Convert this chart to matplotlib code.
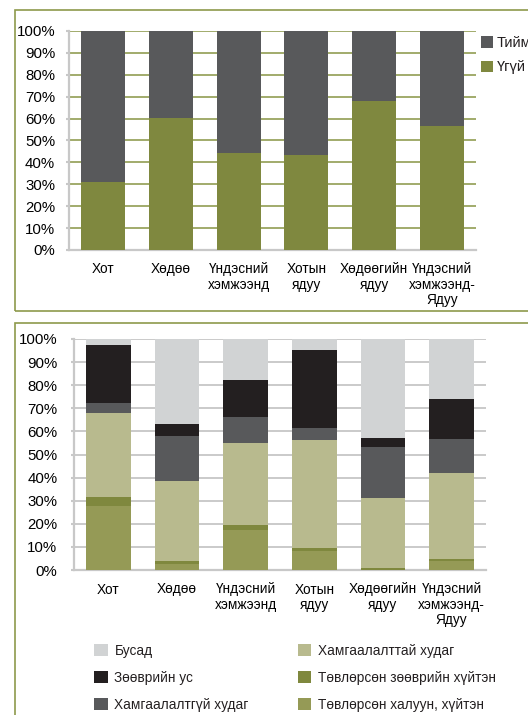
import numpy as np
import matplotlib
matplotlib.use('Agg')
import matplotlib.pyplot as plt
from matplotlib.patches import Rectangle, Patch

plt.rcParams['font.family'] = ['Liberation Sans', 'DejaVu Sans']
plt.rcParams['text.color'] = '#231f20'

# --- data ---
categories = ['Хот', 'Хөдөө', 'Үндэсний\nхэмжээнд', 'Хотын\nядуу',
              'Хөдөөгийн\nядуу', 'Үндэсний\nхэмжээнд-\nЯдуу']

# top chart (percent)
ugui = [30.9, 60.5, 44.1, 43.2, 68.2, 56.8]
tiim = [69.1, 39.5, 55.9, 56.8, 31.8, 43.2]

# bottom chart (percent), stacked bottom -> top
tuv_haluun = [27.5, 2.6, 17.1, 8.4, 0.2, 3.9]
tuv_zoov = [4.1, 1.3, 2.4, 1.1, 0.8, 0.9]
hamgaalalttai = [36.5, 34.7, 35.6, 46.9, 30.2, 37.3]
hamgaalaltgui = [4.3, 19.5, 11.2, 5.2, 22.1, 14.7]
zoov_us = [25.1, 5.2, 16.1, 33.8, 3.9, 17.3]
busad = [2.5, 36.7, 17.6, 4.6, 42.8, 25.9]

W, H = 528, 715
fig = plt.figure(figsize=(W / 100, H / 100), dpi=100)

def fx(px):
    return px / W

def fy(py):
    return 1 - py / H

FRAME = '#8e9a4b'
AXIS = '#c8c8c8'

# panel frames
fig.patches.append(Rectangle((fx(15), fy(311)), fx(540 - 15), (311 - 10) / H,
                             transform=fig.transFigure, fill=False,
                             edgecolor=FRAME, linewidth=1.2, clip_on=False))
fig.patches.append(Rectangle((fx(15), fy(740)), fx(540 - 15), (740 - 323) / H,
                             transform=fig.transFigure, fill=False,
                             edgecolor=FRAME, linewidth=1.2, clip_on=False))

def style_axes(ax, grid_color, tick_pad):
    ax.set_xlim(-0.5, 5.5)
    ax.set_ylim(0, 100)
    ax.set_yticks(np.arange(0, 101, 10))
    ax.set_yticklabels([f'{v}%' for v in range(0, 101, 10)], fontsize=10.8)
    ax.set_xticks(np.arange(len(categories)))
    ax.set_xticklabels(categories, fontsize=9.8, linespacing=1.1)
    ax.tick_params(axis='x', length=0, pad=9)
    ax.tick_params(axis='y', length=2, width=1.5, color=AXIS, pad=tick_pad)
    ax.yaxis.grid(True, color=grid_color, linewidth=1.3)
    ax.set_axisbelow(True)
    for s in ['top', 'right']:
        ax.spines[s].set_visible(False)
    for s in ['left', 'bottom']:
        ax.spines[s].set_color(AXIS)
        ax.spines[s].set_linewidth(1.6)

# --- top chart ---
ax1 = fig.add_axes([fx(69), fy(250), fx(476 - 69), (250 - 31) / H])
x = np.arange(len(categories))
bw = 0.65
ax1.bar(x, ugui, bw, color='#7f883f', label='Үгүй', zorder=3)
ax1.bar(x, tiim, bw, bottom=ugui, color='#58595b', label='Тийм', zorder=3)
style_axes(ax1, '#9aa560', 8)
h1, l1 = ax1.get_legend_handles_labels()
ax1.legend(h1[::-1], l1[::-1], loc='upper left',
           bbox_to_anchor=(fx(481), fy(36)), bbox_transform=fig.transFigure,
           frameon=False, fontsize=10.5, handlelength=0.8, handleheight=0.8,
           handletextpad=0.3, labelspacing=0.7, borderpad=0, borderaxespad=0)

# --- bottom chart ---
ax2 = fig.add_axes([fx(74), fy(570), fx(486 - 74), (570 - 339) / H])
series = [
    (tuv_haluun, '#959a56', 'Төвлөрсөн халуун, хүйтэн'),
    (tuv_zoov, '#7f883e', 'Төвлөрсөн зөөврийн хүйтэн'),
    (hamgaalalttai, '#b8ba8e', 'Хамгаалалттай худаг'),
    (hamgaalaltgui, '#58595b', 'Хамгаалалтгүй худаг'),
    (zoov_us, '#231f20', 'Зөөврийн ус'),
    (busad, '#d1d3d4', 'Бусад'),
]
bottom = np.zeros(len(categories))
handles = []
for vals, col, lab in series:
    ax2.bar(x, vals, bw, bottom=bottom, color=col, zorder=3)
    bottom += np.array(vals)
    handles.append(Patch(facecolor=col, label=lab))
style_axes(ax2, '#c6c6c6', 10)

ax2.legend(handles=handles[::-1], ncol=2, loc='upper left',
           bbox_to_anchor=(fx(94), fy(644)), bbox_transform=fig.transFigure,
           frameon=False, fontsize=9.8, handlelength=1.0, handleheight=1.0,
           handletextpad=0.5, labelspacing=0.95, columnspacing=3.6,
           borderpad=0, borderaxespad=0)

fig.savefig('out.png', dpi=100)
